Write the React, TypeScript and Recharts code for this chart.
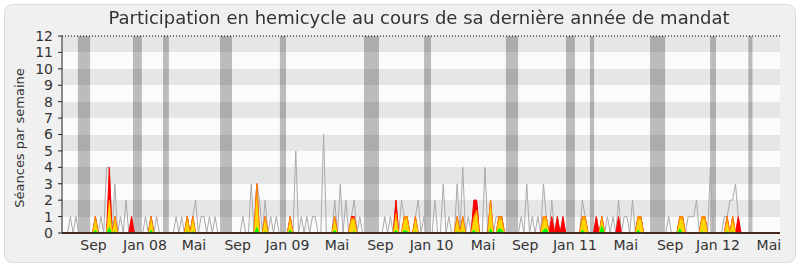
import React from 'react';
import { ComposedChart, Area, XAxis, YAxis, CartesianGrid, ReferenceArea, ReferenceLine } from 'recharts';

// week index (0 = mid-June 2007) -> value
const grayPoints: [number, number][] = [
  [3, 1], [5, 1],
  [12, 1], [14, 1], [16, 4], [17, 4], [19, 3], [21, 1], [23, 2], [25, 1],
  [30, 1], [32, 1], [34, 1],
  [41, 1], [43, 1], [45, 1], [47, 1], [48, 2], [50, 1], [51, 1], [53, 1], [55, 1],
  [65, 1], [68, 3], [70, 3], [71, 2], [73, 2], [75, 1], [77, 1],
  [82, 1], [84, 5], [86, 1], [88, 1], [90, 1], [91, 1], [94, 6],
  [98, 2], [100, 3], [102, 2], [104, 1], [105, 2], [107, 1],
  [116, 1], [118, 1], [120, 2], [122, 2], [123, 1], [124, 1], [127, 1], [128, 2], [130, 1],
  [134, 2], [137, 3], [139, 1], [142, 3], [144, 4], [146, 1], [148, 2], [149, 2], [152, 4], [154, 2], [156, 1], [157, 1], [158, 1],
  [165, 1], [167, 3], [169, 1], [171, 1], [173, 3], [174, 1], [176, 2], [178, 1], [180, 1],
  [187, 2], [188, 1],
  [192, 1], [194, 1], [196, 1], [198, 1], [200, 2], [202, 1], [203, 1], [205, 2], [207, 1], [208, 1],
  [218, 1], [222, 1], [223, 1], [225, 1], [226, 1], [227, 1], [228, 2], [230, 1], [231, 1], [233, 4],
  [238, 1], [239, 1], [240, 2], [241, 2], [242, 3], [243, 1],
];

const redPoints: [number, number][] = [
  [12, 1], [17, 4], [19, 1], [25, 1], [32, 1], [45, 1], [47, 1], [70, 3], [73, 1], [82, 1],
  [98, 1], [104, 1], [105, 1], [120, 2], [123, 1], [124, 1], [127, 1], [142, 1], [144, 1],
  [148, 2], [149, 2], [154, 2], [157, 1], [158, 1], [173, 1], [174, 1], [176, 1], [178, 1], [180, 1],
  [187, 1], [188, 1], [192, 1], [194, 1], [200, 1], [207, 1], [208, 1], [222, 1], [223, 1],
  [230, 1], [231, 1], [239, 1], [241, 1], [243, 1],
];

const orangePoints: [number, number][] = [
  [12, 1], [17, 2], [19, 1], [32, 1], [45, 1], [47, 1], [70, 3], [73, 1], [82, 1], [98, 1],
  [104, 0.9], [105, 0.9], [120, 1.2], [123, 1], [124, 1], [127, 1], [142, 1], [144, 1],
  [148, 1], [149, 1.4], [154, 2], [157, 1], [158, 1], [173, 1], [174, 1], [187, 1], [188, 1],
  [194, 1], [207, 1], [208, 1], [222, 1], [223, 1], [230, 1], [231, 1], [239, 1], [241, 1],
];

const yellowPoints: [number, number][] = [
  [12, 0.8], [17, 2], [19, 0.8], [32, 0.8], [45, 0.8], [47, 0.8], [70, 2.2], [73, 0.8], [82, 0.8],
  [98, 0.8], [104, 0.8], [105, 0.8], [120, 1], [123, 0.8], [124, 0.8], [127, 0.8], [142, 0.8],
  [144, 0.8], [148, 0.8], [149, 1.2], [154, 1.8], [157, 0.8], [158, 0.8], [173, 0.8], [174, 0.8],
  [187, 0.8], [188, 0.8], [194, 0.8], [207, 0.8], [208, 0.8], [222, 0.8], [223, 0.8], [230, 0.8],
  [231, 0.8], [239, 0.7], [241, 0.7],
];

const greenPoints: [number, number][] = [
  [12, 0.2], [17, 0.4], [19, 0.1], [32, 0.2], [45, 0.1], [47, 0.1], [70, 0.4], [73, 0.1], [82, 0.2],
  [98, 0.2], [105, 0.1], [120, 0.2], [123, 0.2], [124, 0.1], [127, 0.1], [142, 0.1], [144, 0.1],
  [148, 0.2], [154, 0.3], [157, 0.3], [158, 0.2], [173, 0.2], [174, 0.3], [187, 0.2], [194, 0.5],
  [207, 0.2], [222, 0.3], [230, 0.1], [239, 0.1], [241, 0.1],
];

// parliamentary holidays, [start week, end week]
const holidays: [number, number][] = [
  [5.7, 10.1], [25.5, 28.7], [36.3, 38.4], [56.8, 61.1], [78.3, 80.5], [108.5, 113.9],
  [130.1, 132.6], [159.5, 163.9], [181.1, 184.3], [189.7, 191.2], [211.3, 216.7],
  [232.9, 235.0], [246.6, 248.1],
];

const tickWeeks = [11.3, 29.8, 47.4, 63.1, 81.0, 98.8, 114.4, 132.8, 151.3, 166.4, 184.3, 202.6, 218.5, 235.7, 254.0];
const tickLabels = ['Sep', 'Jan 08', 'Mai', 'Sep', 'Jan 09', 'Mai', 'Sep', 'Jan 10', 'Mai', 'Sep', 'Jan 11', 'Mai', 'Sep', 'Jan 12', 'Mai'];
const yTicks = [0, 1, 2, 3, 4, 5, 6, 7, 8, 9, 10, 11, 12];

const WEEK_COUNT = 259;
const FONT = 'DejaVu Sans';

function lookup(points: [number, number][], w: number): number {
  const f = points.find((p) => p[0] === w);
  return f ? f[1] : 0;
}

const table = Array.from({ length: WEEK_COUNT }, (_, w) => ({
  w,
  gray: lookup(grayPoints, w),
  red: lookup(redPoints, w),
  orange: lookup(orangePoints, w),
  yellow: lookup(yellowPoints, w),
  green: lookup(greenPoints, w),
}));

const labelFor = (v: number) => {
  const i = tickWeeks.indexOf(v);
  return i >= 0 ? tickLabels[i] : '';
};

export default function App() {
  return (
    <div style={{ position: 'fixed', left: 0, top: 0, width: 800, height: 267, background: '#ffffff', fontFamily: FONT }}>
      <div style={{ position: 'absolute', left: 4, top: 4, width: 790, height: 257, borderRadius: 8, border: '1px solid #dddddd', background: '#f0f0f0' }} />
      <div style={{ position: 'absolute', left: 0, top: 0 }}>
        <ComposedChart width={800} height={267} data={table} margin={{ top: 36, right: 20, bottom: 0, left: 0 }}>
          <CartesianGrid vertical={false} stroke="none" horizontalFill={['#e6e6e6', '#fbfbfb']} fillOpacity={1} />
          {holidays.map((h, i) => (
            <ReferenceArea key={i} x1={h[0]} x2={h[1]} y1={0} y2={12} fill="#000000" fillOpacity={0.25} stroke="none" />
          ))}
          <XAxis
            dataKey="w"
            type="number"
            domain={[0, WEEK_COUNT - 1]}
            ticks={tickWeeks}
            interval={0}
            tickFormatter={labelFor}
            tickLine={false}
            tickSize={0}
            tickMargin={7}
            height={34}
            axisLine={{ stroke: '#222222' }}
            tick={{ fill: '#333333', fontSize: 14, fontFamily: FONT }}
          />
          <YAxis
            type="number"
            domain={[0, 12]}
            ticks={yTicks}
            interval={0}
            width={62}
            tickSize={4}
            tickMargin={5}
            axisLine={{ stroke: '#222222' }}
            tickLine={{ stroke: '#222222' }}
            tick={{ fill: '#333333', fontSize: 14, fontFamily: FONT }}
          />
          <ReferenceLine y={12} stroke="#000000" strokeDasharray="1 2" />
          <Area type="linear" dataKey="gray" stroke="#aaaaaa" strokeWidth={1} fill="none" fillOpacity={0} dot={false} activeDot={false} isAnimationActive={false} />
          <Area type="linear" dataKey="red" stroke="#ff0000" strokeWidth={1} fill="#ff0000" fillOpacity={1} dot={false} activeDot={false} isAnimationActive={false} />
          <Area type="linear" dataKey="orange" stroke="#ff8c00" strokeWidth={1} fill="#ffa500" fillOpacity={1} dot={false} activeDot={false} isAnimationActive={false} />
          <Area type="linear" dataKey="yellow" stroke="none" fill="#ffd700" fillOpacity={1} dot={false} activeDot={false} isAnimationActive={false} />
          <Area type="linear" dataKey="green" stroke="none" fill="#00ff00" fillOpacity={1} dot={false} activeDot={false} isAnimationActive={false} />
          <ReferenceLine y={0} stroke="#3a1a10" strokeWidth={1.5} />
        </ComposedChart>
      </div>
      <div style={{ position: 'absolute', left: 0, top: 7, width: 838, textAlign: 'center', fontSize: 18, color: '#333333', whiteSpace: 'nowrap' }}>
        Participation en hemicycle au cours de sa dernière année de mandat
      </div>
      <div style={{ position: 'absolute', left: 19, top: 138, transform: 'translate(-50%, -50%) rotate(-90deg)', fontSize: 13, color: '#333333', whiteSpace: 'nowrap' }}>
        Séances par semaine
      </div>
    </div>
  );
}
